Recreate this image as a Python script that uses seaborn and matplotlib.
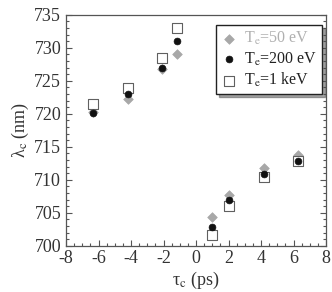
import pandas as pd
import matplotlib
matplotlib.use('Agg')
import matplotlib.pyplot as plt
import seaborn as sns

# delay values (ps)
tau = [-6.35, -4.2, -2.1, -1.15, 1.0, 2.05, 4.2, 6.3]
lam_50ev = [720.3, 722.3, 726.8, 729.0, 704.4, 707.7, 711.8, 713.8]
lam_200ev = [720.1, 723.0, 727.0, 731.1, 702.8, 706.9, 710.9, 712.9]
lam_1kev = [721.5, 723.9, 728.4, 733.0, 701.7, 706.1, 710.4, 712.8]

sns.set_theme(style='ticks')
plt.rcParams['font.family'] = ['Liberation Serif', 'DejaVu Serif']
plt.rcParams['mathtext.fontset'] = 'stix'
plt.rcParams['axes.unicode_minus'] = False

fig = plt.figure(figsize=(3.32, 2.92), dpi=100)
ax = fig.add_axes([0.199, 0.158, 0.783, 0.791])

d50 = pd.DataFrame({'tau': tau, 'lam': lam_50ev})
d200 = pd.DataFrame({'tau': tau, 'lam': lam_200ev})
d1k = pd.DataFrame({'tau': tau, 'lam': lam_1kev})

sns.scatterplot(data=d50, x='tau', y='lam', marker='D', s=24, color='#a8a8a8',
                edgecolor='#a8a8a8', linewidth=0.5, ax=ax, label='T$_\\mathrm{e}$=50 eV', zorder=3)
sns.scatterplot(data=d1k, x='tau', y='lam', marker='s', s=42, color='white',
                edgecolor='#606060', linewidth=0.8, ax=ax, label='T$_\\mathrm{e}$=1 keV', zorder=4)
sns.scatterplot(data=d200, x='tau', y='lam', marker='o', s=24, color='#111111',
                edgecolor='#111111', linewidth=0.5, ax=ax, label='T$_\\mathrm{e}$=200 eV', zorder=5)

ax.set_xlim(-8, 8)
ax.set_ylim(700, 735)
ax.set_xticks(range(-8, 9, 2))
ax.set_yticks(range(700, 736, 5))
ax.set_xticks([x / 2 for x in range(-16, 17)], minor=True)
ax.set_yticks(range(700, 736), minor=True)
ax.tick_params(which='both', direction='in', colors='#555555', labelcolor='#333333',
               labelsize=13, right=True, top=False, width=0.8)
ax.tick_params(which='major', length=4)
ax.tick_params(which='minor', length=2)
ax.tick_params(axis='x', pad=3)
for sp in ax.spines.values():
    sp.set_color('#555555')
    sp.set_linewidth(0.9)

ax.set_xlabel('τ$_\\mathrm{c}$ (ps)', fontsize=13, color='#333333', labelpad=2)
ax.set_ylabel('λ$_\\mathrm{c}$ (nm)', fontsize=13, color='#333333', labelpad=2)

handles, labels = ax.get_legend_handles_labels()
order = [0, 2, 1]
leg = ax.legend([handles[i] for i in order], [labels[i] for i in order],
                loc='upper right', bbox_to_anchor=(0.997, 0.968), fontsize=11.5,
                frameon=True, fancybox=False, shadow=True, edgecolor='#222222',
                handletextpad=0.45, labelspacing=0.2, borderpad=0.3, handlelength=1.0,
                borderaxespad=0.2)
leg.get_frame().set_linewidth(1.0)
leg.get_texts()[0].set_color('#b0b0b0')
for t in leg.get_texts()[1:]:
    t.set_color('#222222')

fig.savefig('out.png', dpi=100)
